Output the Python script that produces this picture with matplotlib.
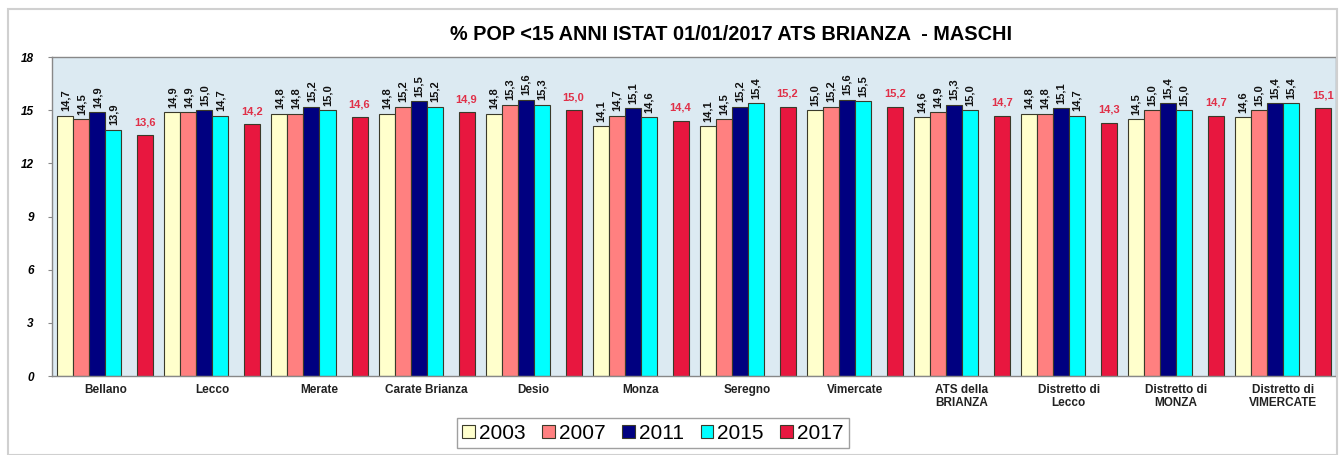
import numpy as np
import matplotlib
matplotlib.use("Agg")
import matplotlib.pyplot as plt
from matplotlib.patches import Rectangle

plt.rcParams['font.family'] = ['Liberation Sans', 'DejaVu Sans']

categories = ["Bellano", "Lecco", "Merate", "Carate Brianza", "Desio", "Monza",
              "Seregno", "Vimercate", "ATS della\nBRIANZA", "Distretto di\nLecco",
              "Distretto di\nMONZA", "Distretto di\nVIMERCATE"]
years = ["2003", "2007", "2011", "2015", "2017"]
v2003 = [14.7, 14.9, 14.8, 14.8, 14.8, 14.1, 14.1, 15.0, 14.6, 14.8, 14.5, 14.6]
v2007 = [14.5, 14.9, 14.8, 15.2, 15.3, 14.7, 14.5, 15.2, 14.9, 14.8, 15.0, 15.0]
v2011 = [14.9, 15.0, 15.2, 15.5, 15.6, 15.1, 15.2, 15.6, 15.3, 15.1, 15.4, 15.4]
v2015 = [13.9, 14.7, 15.0, 15.2, 15.3, 14.6, 15.4, 15.5, 15.0, 14.7, 15.0, 15.4]
v2017 = [13.6, 14.2, 14.6, 14.9, 15.0, 14.4, 15.2, 15.2, 14.7, 14.3, 14.7, 15.1]
series = [v2003, v2007, v2011, v2015, v2017]
colors = ["#FFFFCC", "#FF8080", "#000080", "#00FFFF", "#E8173F"]
slots = [0, 1, 2, 3, 5]   # slot 4 left empty, as in the original

fig = plt.figure(figsize=(13.42, 4.55), dpi=100)
ax = fig.add_axes([0.0387, 0.1736, 0.957, 0.701])
ax.set_facecolor("#DCEAF2")

x = np.arange(len(categories))
w = 1 / 6.6875
for vals, col, s, yr in zip(series, colors, slots, years):
    pos = x + (s - 2.5) * w
    ax.bar(pos, vals, width=w, color=col, edgecolor="#3a3a2a", linewidth=0.8, label=yr)
    for px, v in zip(pos, vals):
        txt = f"{v:.1f}".replace(".", ",")
        if yr == "2017":
            ax.text(px, v + 0.45, txt, ha="center", va="bottom", fontsize=8,
                    fontweight="bold", color="#E03048")
        else:
            ax.text(px, v + 0.25, txt, ha="center", va="bottom", rotation=90,
                    fontsize=8, fontweight="bold", color="#111111")

ax.set_xlim(-0.5, len(categories) - 0.5)
ax.set_ylim(0, 18)
ax.set_yticks(range(0, 19, 3))
ax.set_yticklabels([str(t) for t in range(0, 19, 3)], fontsize=8.5,
                   fontweight="bold", fontstyle="italic")
ax.set_xticks(x)
ax.set_xticklabels(categories, fontsize=8.5, fontweight="bold", color="#222222",
                   linespacing=1.1)
ax.tick_params(axis="x", length=0, pad=6)
ax.tick_params(axis="y", length=3, pad=10, color="#888888")
for sp in ax.spines.values():
    sp.set_color("#888888")
    sp.set_linewidth(1)

fig.text(0.545, 0.925, "% POP <15 ANNI ISTAT 01/01/2017 ATS BRIANZA  - MASCHI",
         ha="center", va="center", fontsize=14.3, fontweight="bold")

leg = fig.legend(loc="center", bbox_to_anchor=(0.4865, 0.048), ncol=5,
                 fontsize=15, frameon=True, fancybox=False, edgecolor="#888888",
                 handlelength=0.6, handleheight=0.6, handletextpad=0.2,
                 columnspacing=0.8, borderpad=0.25)
for h in leg.legend_handles:
    h.set_linewidth(0.8)

fig.patches.append(Rectangle((0.006, 0.0), 0.99, 0.98, transform=fig.transFigure,
                             fill=False, edgecolor="#D0D0D0", linewidth=1.5))

fig.savefig("out.png", dpi=100)
